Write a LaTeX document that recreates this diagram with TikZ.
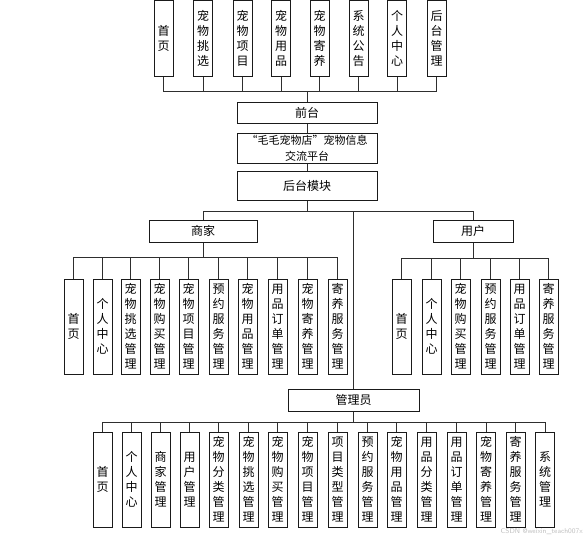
\documentclass[tikz,border=0pt]{standalone}
\usepackage{fontspec}
\usepackage{tikz}
\usetikzlibrary{positioning, calc}
\newfontfamily\cjk{Noto Sans CJK SC}
\definecolor{BoxLine}{HTML}{1A1A1A}
\definecolor{LinkLine}{HTML}{2E2E2E}
\tikzset{
  box/.style={draw=BoxLine, line width=1pt, fill=white, inner sep=0pt,
    font=\cjk\fontsize{12}{15}\selectfont},
  vbox/.style={box, minimum width=19pt, align=center},
  hbox/.style={box, minimum height=21pt},
  link/.style={draw=LinkLine, line width=0.8pt},
}

\begin{document}
\begin{tikzpicture}[x=1pt, y=-1pt]
    \useasboundingbox (0,0) rectangle (585,536);

    % Front-end modules
    \node[vbox, minimum height=76pt] (tHome)   at (163.5,38.5) {首\\页};
    \node[vbox, minimum height=76pt] (tPick)   at (203,38.5)   {宠\\物\\挑\\选};
    \node[vbox, minimum height=76pt] (tItem)   at (242.5,38.5) {宠\\物\\项\\目};
    \node[vbox, minimum height=76pt] (tGoods)  at (281,38.5)   {宠\\物\\用\\品};
    \node[vbox, minimum height=76pt] (tFoster) at (319.5,38.5) {宠\\物\\寄\\养};
    \node[vbox, minimum height=76pt] (tNotice) at (358.5,38.5) {系\\统\\公\\告};
    \node[vbox, minimum height=76pt] (tCenter) at (397,38.5)   {个\\人\\中\\心};
    \node[vbox, minimum height=76pt] (tBack)   at (436.5,38.5) {后\\台\\管\\理};
    \coordinate (topBus) at (307,91);
    \foreach \n in {tHome,tPick,tItem,tGoods,tFoster,tNotice,tCenter,tBack}
        \draw[link] (\n.south) |- (topBus);

    % Platform column
    \node[hbox, minimum width=140pt] (front) at (307,112.5) {前台};
    \node[hbox, minimum width=140pt, minimum height=30pt, align=center,
          font=\cjk\fontsize{11}{16}\selectfont] (platform) at (307,148)
          {“毛毛宠物店”宠物信息\\交流平台};
    \node[hbox, minimum width=140pt, minimum height=29pt] (backend) at (307,185.5) {后台模块};
    \draw[link] (topBus) -- (front.north);
    \draw[link] (front) -- (platform);
    \draw[link] (platform) -- (backend);

    % Roles
    \node[hbox, minimum width=108pt, minimum height=22pt] (merchant) at (203,231) {商家};
    \node[hbox, minimum width=80pt, minimum height=22pt]  (user)     at (473,231) {用户};
    \node[hbox, minimum width=131pt, minimum height=22pt] (admin)    at (353.5,400) {管理员};
    \coordinate (roleBus) at (307,211);
    \draw[link] (backend.south) -- (roleBus);
    \draw[link] (roleBus) -| (merchant.north);
    \draw[link] (roleBus) -| (user.north);
    \draw[link] (roleBus) -| (admin.north);

    % Merchant modules
    \node[vbox, minimum height=95pt] (m1)  at (73.5,326.5)  {首\\页};
    \node[vbox, minimum height=95pt] (m2)  at (102.5,326.5) {个\\人\\中\\心};
    \node[vbox, minimum height=95pt] (m3)  at (130.5,326.5) {宠\\物\\挑\\选\\管\\理};
    \node[vbox, minimum height=95pt] (m4)  at (159.5,326.5) {宠\\物\\购\\买\\管\\理};
    \node[vbox, minimum height=95pt] (m5)  at (188.5,326.5) {宠\\物\\项\\目\\管\\理};
    \node[vbox, minimum height=95pt] (m6)  at (218.5,326.5) {预\\约\\服\\务\\管\\理};
    \node[vbox, minimum height=95pt] (m7)  at (247.5,326.5) {宠\\物\\用\\品\\管\\理};
    \node[vbox, minimum height=95pt] (m8)  at (277.5,326.5) {用\\品\\订\\单\\管\\理};
    \node[vbox, minimum height=95pt] (m9)  at (307.5,326.5) {宠\\物\\寄\\养\\管\\理};
    \node[vbox, minimum height=95pt] (m10) at (337.5,326.5) {寄\\养\\服\\务\\管\\理};
    \coordinate (merchantBus) at (203,257);
    \draw[link] (merchant.south) -- (merchantBus);
    \foreach \n in {m1,m2,m3,m4,m5,m6,m7,m8,m9,m10}
        \draw[link] (merchantBus) -| (\n.north);

    % User modules
    \node[vbox, minimum height=95pt] (u1) at (401.5,326.5) {首\\页};
    \node[vbox, minimum height=95pt] (u2) at (431.5,326.5) {个\\人\\中\\心};
    \node[vbox, minimum height=95pt] (u3) at (460.5,326.5) {宠\\物\\购\\买\\管\\理};
    \node[vbox, minimum height=95pt] (u4) at (490.5,326.5) {预\\约\\服\\务\\管\\理};
    \node[vbox, minimum height=95pt] (u5) at (519.5,326.5) {用\\品\\订\\单\\管\\理};
    \node[vbox, minimum height=95pt] (u6) at (548.5,326.5) {寄\\养\\服\\务\\管\\理};
    \coordinate (userBus) at (473,258);
    \draw[link] (user.south) -- (userBus);
    \foreach \n in {u1,u2,u3,u4,u5,u6}
        \draw[link] (userBus) -| (\n.north);

    % Admin modules
    \node[vbox, minimum height=95pt] (a1)  at (102.5,479.5) {首\\页};
    \node[vbox, minimum height=95pt] (a2)  at (131.5,479.5) {个\\人\\中\\心};
    \node[vbox, minimum height=95pt] (a3)  at (160.5,479.5) {商\\家\\管\\理};
    \node[vbox, minimum height=95pt] (a4)  at (189.5,479.5) {用\\户\\管\\理};
    \node[vbox, minimum height=95pt] (a5)  at (218.5,479.5) {宠\\物\\分\\类\\管\\理};
    \node[vbox, minimum height=95pt] (a6)  at (248.5,479.5) {宠\\物\\挑\\选\\管\\理};
    \node[vbox, minimum height=95pt] (a7)  at (277.5,479.5) {宠\\物\\购\\买\\管\\理};
    \node[vbox, minimum height=95pt] (a8)  at (307.5,479.5) {宠\\物\\项\\目\\管\\理};
    \node[vbox, minimum height=95pt] (a9)  at (337.5,479.5) {项\\目\\类\\型\\管\\理};
    \node[vbox, minimum height=95pt] (a10) at (367.5,479.5) {预\\约\\服\\务\\管\\理};
    \node[vbox, minimum height=95pt] (a11) at (396.5,479.5) {宠\\物\\用\\品\\管\\理};
    \node[vbox, minimum height=95pt] (a12) at (426.5,479.5) {用\\品\\分\\类\\管\\理};
    \node[vbox, minimum height=95pt] (a13) at (456.5,479.5) {用\\品\\订\\单\\管\\理};
    \node[vbox, minimum height=95pt] (a14) at (486,479.5)   {宠\\物\\寄\\养\\管\\理};
    \node[vbox, minimum height=95pt] (a15) at (515.5,479.5) {寄\\养\\服\\务\\管\\理};
    \node[vbox, minimum height=95pt] (a16) at (545,479.5)   {系\\统\\管\\理};
    \coordinate (adminBus) at (353.5,422);
    \draw[link] (admin.south) -- (adminBus);
    \foreach \n in {a1,a2,a3,a4,a5,a6,a7,a8,a9,a10,a11,a12,a13,a14,a15,a16}
        \draw[link] (adminBus) -| (\n.north);

    % Watermark
    \node[font=\sffamily\fontsize{7}{8}\selectfont, text=black!25, anchor=east, inner sep=0pt] (mark)
        at (583,532) {CSDN @weixin\_teach007x};
\end{tikzpicture}
\end{document}
